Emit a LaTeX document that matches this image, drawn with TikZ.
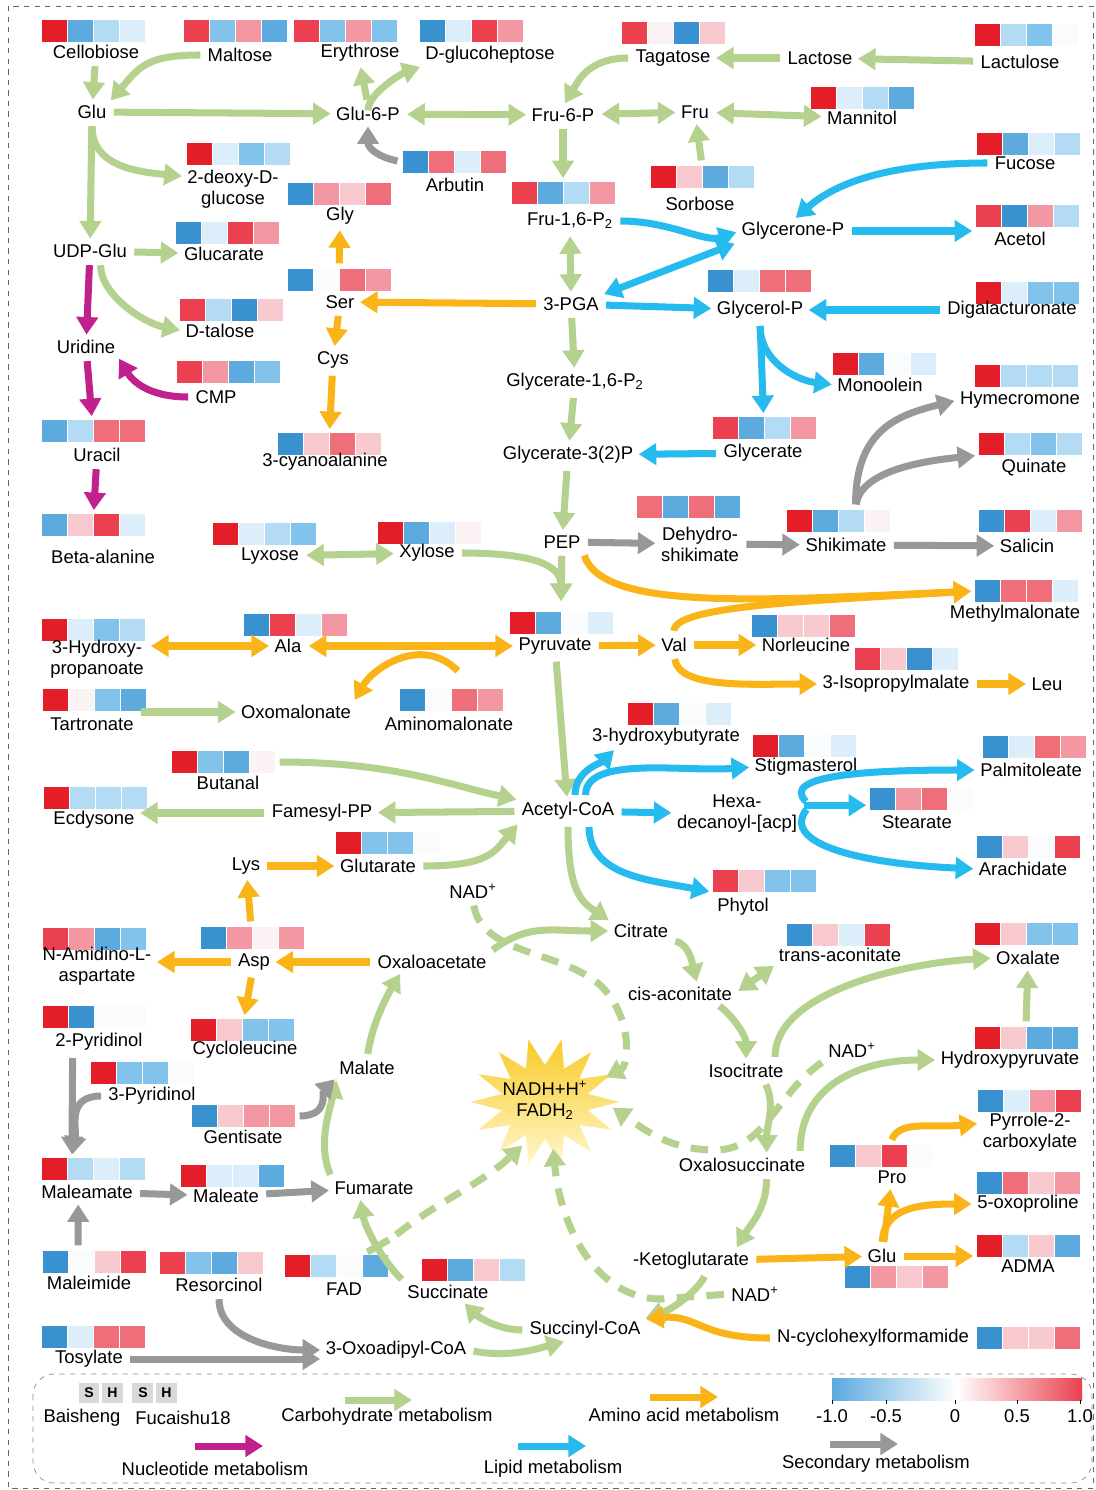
\documentclass[tikz,border=0pt]{standalone}
\usepackage{fontspec}
\setmainfont{Liberation Sans}
\usetikzlibrary{positioning,arrows.meta,shapes.geometric}

\definecolor{carbc}{RGB}{180,209,142}
\definecolor{aminoc}{RGB}{251,180,24}
\definecolor{nuclc}{RGB}{192,33,140}
\definecolor{lipc}{RGB}{38,187,238}
\definecolor{secc}{RGB}{152,152,152}
\definecolor{starc}{RGB}{248,203,40}
\definecolor{starl}{RGB}{255,247,205}
\definecolor{hr4}{RGB}{228,30,40}
\definecolor{hr3}{RGB}{234,64,80}
\definecolor{hr2}{RGB}{238,110,122}
\definecolor{hr1}{RGB}{243,152,162}
\definecolor{hr0}{RGB}{248,202,208}
\definecolor{hw}{RGB}{251,242,244}
\definecolor{hx}{RGB}{250,251,253}
\definecolor{hb0}{RGB}{220,238,250}
\definecolor{hb1}{RGB}{180,219,244}
\definecolor{hb2}{RGB}{130,195,236}
\definecolor{hb3}{RGB}{92,170,222}
\definecolor{hb4}{RGB}{58,145,208}

\newcommand{\mfont}{\fontsize{10.5}{12}\selectfont}
\newcommand{\heat}[4]{%
  \foreach \col [count=\i from 0] in {#4} {\fill[\col] (#2+\i*26,#3) rectangle +(24.5,22);}
  \node (#1-h) [hmap] at (#2+51,#3+11) {};
}

\begin{document}
\begin{tikzpicture}[x=0.02cm, y=-0.02cm, >={Triangle[length=10pt,width=12pt]},
  lbl/.style={inner sep=1pt, align=center, font=\mfont},
  hmap/.style={inner sep=0pt, minimum width=2.04cm, minimum height=0.44cm},
  key/.style={fill=black!15, inner sep=0pt, minimum width=0.42cm, minimum height=0.4cm, font=\fontsize{8}{9}\selectfont\bfseries},
  carb/.style={->, draw=carbc, line width=4pt, shorten <=3pt, shorten >=2pt},
  carbdash/.style={carb, dash pattern=on 10pt off 7pt},
  amino/.style={carb, draw=aminoc},
  nucl/.style={carb, draw=nuclc},
  lipid/.style={carb, draw=lipc},
  sec/.style={carb, draw=secc}]
\useasboundingbox (0,0) rectangle (1095,1490);
\draw[black!60, dashed] (8,6) rectangle (1093,1488);

% heat maps
\heat{cellobiose}{42}{20}{hr4,hb3,hb1,hb0}
\heat{maltose}{184}{20}{hr3,hb2,hr1,hb3}
\heat{erythrose}{294}{20}{hr3,hb2,hr1,hb2}
\heat{dgh}{420}{20}{hb4,hb0,hr3,hr1}
\heat{tagatose}{622}{22}{hr3,hw,hb4,hr0}
\heat{lactulose}{975}{24}{hr4,hb1,hb2,hx}
\heat{mannitol}{811}{87}{hr4,hb0,hb1,hb3}
\heat{deoxy}{187}{143}{hr4,hb0,hb2,hb1}
\heat{arbutin}{403}{151}{hb4,hr2,hb0,hr2}
\heat{gly}{288}{183}{hb4,hr1,hr0,hr2}
\heat{fru16}{512}{182}{hr3,hb3,hb1,hr1}
\heat{sorbose}{651}{166}{hr4,hr0,hb3,hb1}
\heat{fucose}{977}{133}{hr4,hb3,hb0,hb1}
\heat{acetol}{976}{205}{hr3,hb4,hr1,hb1}
\heat{glucarate}{176}{222}{hb4,hb0,hr3,hr1}
\heat{ser}{288}{269}{hb4,hx,hr2,hr1}
\heat{glycerolp}{708}{270}{hb4,hb0,hr2,hr2}
\heat{digal}{976}{282}{hr4,hb0,hb2,hb2}
\heat{dtalose}{180}{299}{hr3,hb1,hb4,hr0}
\heat{cmp}{177}{361}{hr3,hr1,hb3,hb2}
\heat{monoolein}{833}{353}{hr4,hb3,hx,hb0}
\heat{hymecromone}{975}{365}{hr4,hb1,hb1,hb1}
\heat{uracil}{42}{420}{hb3,hb1,hr2,hr2}
\heat{cyano}{278}{433}{hb4,hr0,hr2,hr0}
\heat{glycerate}{713}{417}{hr3,hb3,hb1,hr1}
\heat{quinate}{979}{433}{hr4,hb1,hb2,hb1}
\heat{betaala}{42}{514}{hb3,hr0,hr3,hb0}
\heat{dehydro}{637}{496}{hr2,hb3,hr2,hb3}
\heat{shikimate}{787}{510}{hr4,hb3,hb1,hw}
\heat{salicin}{979}{510}{hb4,hr3,hb0,hr1}
\heat{lyxose}{213}{523}{hr4,hb0,hb1,hb2}
\heat{xylose}{378}{522}{hr4,hb3,hb0,hw}
\heat{methylmal}{975}{580}{hb4,hr2,hr2,hb0}
\heat{hydroxyprop}{42}{619}{hr4,hb0,hb2,hb1}
\heat{ala}{244}{614}{hb4,hr3,hb0,hr1}
\heat{pyruvate}{510}{612}{hr4,hb3,hx,hb0}
\heat{norleucine}{752}{615}{hb4,hr0,hr0,hr2}
\heat{isoprop}{855}{648}{hr3,hr0,hb4,hb0}
\heat{tartronate}{43}{689}{hr4,hw,hb2,hb3}
\heat{aminomal}{400}{689}{hb4,hx,hr2,hr1}
\heat{hydroxybut}{628}{703}{hr4,hb3,hx,hb0}
\heat{butanal}{172}{751}{hr4,hb2,hb3,hw}
\heat{stigmasterol}{753}{735}{hr4,hb3,hx,hb0}
\heat{palmitoleate}{983}{736}{hb4,hb0,hr2,hr1}
\heat{ecdysone}{44}{787}{hr4,hb1,hb1,hb1}
\heat{stearate}{870}{788}{hb4,hr1,hr2,hx}
\heat{glutarate}{336}{832}{hr4,hb2,hb2,hx}
\heat{arachidate}{977}{836}{hb4,hr0,hx,hr3}
\heat{phytol}{713}{870}{hr3,hr0,hb2,hb2}
\heat{transacon}{787}{924}{hb4,hr0,hb0,hr3}
\heat{oxalate}{975}{923}{hr4,hr0,hb2,hb2}
\heat{namidino}{43}{928}{hr3,hr1,hb3,hb2}
\heat{asp}{201}{927}{hb4,hr1,hw,hr1}
\heat{pyridinol2}{43}{1006}{hr4,hb4,hx,hx}
\heat{cyclo}{191}{1019}{hr4,hr0,hb2,hb2}
\heat{hydroxypyr}{975}{1027}{hr4,hr0,hb3,hb3}
\heat{pyridinol3}{91}{1062}{hr4,hb2,hb2,hx}
\heat{pyrrole}{978}{1090}{hb4,hb0,hr1,hr3}
\heat{gentisate}{192}{1105}{hb4,hr0,hr1,hr1}
\heat{pro}{830}{1145}{hb4,hr0,hr3,hx}
\heat{maleamate}{42}{1158}{hr4,hb1,hb0,hb1}
\heat{maleate}{181}{1165}{hr4,hb0,hb0,hb3}
\heat{oxoproline}{977}{1172}{hb4,hr2,hr0,hr1}
\heat{maleimide}{43}{1251}{hb4,hx,hr0,hr3}
\heat{resorcinol}{160}{1252}{hr3,hb2,hb3,hr0}
\heat{fad}{285}{1255}{hr4,hb1,hx,hb3}
\heat{succinate}{422}{1259}{hr4,hb3,hr0,hb1}
\heat{glu2}{845}{1266}{hb4,hr1,hr0,hr1}
\heat{adma}{977}{1235}{hr4,hb1,hr0,hb3}
\heat{ncyclo}{977}{1327}{hb4,hr0,hr0,hr2}
\heat{tosylate}{42}{1326}{hb4,hb0,hr2,hr2}

% star
\shade[top color=starc, bottom color=starl] plot[samples=29, domain=0:28, variable=\k]
  ({545+cos(\k*360/28)*ifthenelse(mod(\k,2)<0.5,74,44)}, {1102+sin(\k*360/28)*ifthenelse(mod(\k,2)<0.5,64,37)}) -- cycle;
\node (star) [lbl, ellipse, minimum width=2.6cm, minimum height=1.8cm] at (545,1100) {NADH+H\textsuperscript{+}\\FADH\textsubscript{2}};

% metabolites
\node (cellobiose) [lbl] at (96,52) {Cellobiose};
\node (maltose) [lbl] at (240,55) {Maltose};
\node (erythrose) [lbl] at (360,53) {Erythrose};
\node (dgh) [lbl] at (490,55) {D-glucoheptose};
\node (tagatose) [lbl] at (673,58) {Tagatose};
\node (lactose) [lbl] at (820,58) {Lactose};
\node (lactulose) [lbl] at (1020,62) {Lactulose};
\node (glu) [lbl] at (92,112) {Glu};
\node (glu6p) [lbl] at (368,114) {Glu-6-P};
\node (fru6p) [lbl] at (563,115) {Fru-6-P};
\node (fru) [lbl] at (695,112) {Fru};
\node (mannitol) [lbl] at (862,118) {Mannitol};
\node (deoxy) [lbl] at (233,189) {2-deoxy-D-\\glucose};
\node (arbutin) [lbl] at (455,185) {Arbutin};
\node (gly) [lbl] at (340,216) {Gly};
\node (fru16) [lbl] at (570,221) {Fru-1,6-P\textsubscript{2}};
\node (sorbose) [lbl] at (700,204) {Sorbose};
\node (fucose) [lbl] at (1025,163) {Fucose};
\node (glycerone) [lbl] at (793,231) {Glycerone-P};
\node (acetol) [lbl] at (1020,239) {Acetol};
\node (udpglu) [lbl] at (90,251) {UDP-Glu};
\node (glucarate) [lbl] at (224,254) {Glucarate};
\node (ser) [lbl] at (340,302) {Ser};
\node (pga) [lbl] at (571,304) {3-PGA};
\node (glycerolp) [lbl] at (760,310) {Glycerol-P};
\node (digal) [lbl] at (1012,310) {Digalacturonate};
\node (dtalose) [lbl] at (220,331) {D-talose};
\node (uridine) [lbl] at (86,347) {Uridine};
\node (cmp) [lbl] at (216,397) {CMP};
\node (cys) [lbl] at (333,360) {Cys};
\node (g16p) [lbl] at (575,382) {Glycerate-1,6-P\textsubscript{2}};
\node (monoolein) [lbl] at (880,385) {Monoolein};
\node (hymecromone) [lbl] at (1020,400) {Hymecromone};
\node (uracil) [lbl] at (97,455) {Uracil};
\node (cyano) [lbl] at (325,462) {3-cyanoalanine};
\node (glycerate) [lbl] at (763,453) {Glycerate};
\node (g32p) [lbl] at (568,455) {Glycerate-3(2)P};
\node (quinate) [lbl] at (1034,468) {Quinate};
\node (betaala) [lbl] at (103,557) {Beta-alanine};
\node (dehydro) [lbl] at (700,544) {Dehydro-\\shikimate};
\node (shikimate) [lbl] at (846,545) {Shikimate};
\node (salicin) [lbl] at (1027,546) {Salicin};
\node (pep) [lbl] at (562,542) {PEP};
\node (lyxose) [lbl] at (270,556) {Lyxose};
\node (xylose) [lbl] at (427,553) {Xylose};
\node (methylmal) [lbl] at (1015,614) {Methylmalonate};
\node (hydroxyprop) [lbl] at (97,659) {3-Hydroxy-\\propanoate};
\node (ala) [lbl] at (288,646) {Ala};
\node (pyruvate) [lbl] at (555,646) {Pyruvate};
\node (val) [lbl] at (674,645) {Val};
\node (norleucine) [lbl] at (806,645) {Norleucine};
\node (isoprop) [lbl] at (896,684) {3-Isopropylmalate};
\node (leu) [lbl] at (1047,684) {Leu};
\node (tartronate) [lbl] at (92,724) {Tartronate};
\node (oxomal) [lbl] at (296,712) {Oxomalonate};
\node (aminomal) [lbl] at (449,724) {Aminomalonate};
\node (hydroxybut) [lbl] at (666,737) {3-hydroxybutyrate};
\node (butanal) [lbl] at (228,783) {Butanal};
\node (stigmasterol) [lbl] at (806,767) {Stigmasterol};
\node (palmitoleate) [lbl] at (1031,770) {Palmitoleate};
\node (ecdysone) [lbl] at (94,820) {Ecdysone};
\node (famesyl) [lbl] at (322,813) {Famesyl-PP};
\node (acetylcoa) [lbl] at (568,811) {Acetyl-CoA};
\node (hexa) [lbl] at (737,814) {Hexa-\\decanoyl-[acp]};
\node (stearate) [lbl] at (917,822) {Stearate};
\node (lys) [lbl] at (246,866) {Lys};
\node (glutarate) [lbl] at (378,866) {Glutarate};
\node (arachidate) [lbl] at (1023,869) {Arachidate};
\node (phytol) [lbl] at (743,907) {Phytol};
\node (nad1) [lbl] at (473,891) {NAD\textsuperscript{+}};
\node (citrate) [lbl] at (641,931) {Citrate};
\node (transacon) [lbl] at (840,955) {trans-aconitate};
\node (oxalate) [lbl] at (1028,958) {Oxalate};
\node (namidino) [lbl] at (97,966) {N-Amidino-L-\\aspartate};
\node (asp) [lbl] at (254,962) {Asp};
\node (oxaloacetate) [lbl] at (432,962) {Oxaloacetate};
\node (cisacon) [lbl] at (680,994) {cis-aconitate};
\node (pyridinol2) [lbl] at (99,1042) {2-Pyridinol};
\node (cyclo) [lbl] at (245,1050) {Cycloleucine};
\node (nad2) [lbl] at (852,1050) {NAD\textsuperscript{+}};
\node (hydroxypyr) [lbl] at (1010,1060) {Hydroxypyruvate};
\node (malate) [lbl] at (367,1068) {Malate};
\node (isocitrate) [lbl] at (746,1071) {Isocitrate};
\node (pyridinol3) [lbl] at (152,1096) {3-Pyridinol};
\node (pyrrole) [lbl] at (1030,1132) {Pyrrole-2-\\carboxylate};
\node (gentisate) [lbl] at (243,1137) {Gentisate};
\node (oxalosucc) [lbl] at (742,1165) {Oxalosuccinate};
\node (pro) [lbl] at (892,1177) {Pro};
\node (maleamate) [lbl] at (87,1192) {Maleamate};
\node (maleate) [lbl] at (226,1196) {Maleate};
\node (fumarate) [lbl] at (374,1188) {Fumarate};
\node (oxoproline) [lbl] at (1028,1204) {5-oxoproline};
\node (maleimide) [lbl] at (89,1283) {Maleimide};
\node (resorcinol) [lbl] at (219,1285) {Resorcinol};
\node (fad) [lbl] at (344,1289) {FAD};
\node (succinate) [lbl] at (448,1292) {Succinate};
\node (ketoglut) [lbl] at (691,1261) {-Ketoglutarate};
\node (glu2) [lbl] at (882,1256) {Glu};
\node (adma) [lbl] at (1028,1266) {ADMA};
\node (nad3) [lbl] at (755,1294) {NAD\textsuperscript{+}};
\node (succinylcoa) [lbl] at (585,1330) {Succinyl-CoA};
\node (ncyclo) [lbl] at (873,1338) {N-cyclohexylformamide};
\node (tosylate) [lbl] at (89,1359) {Tosylate};
\node (oxoadipyl) [lbl] at (396,1350) {3-Oxoadipyl-CoA};
\coordinate (fadj) at (392,1238);

% carbohydrate
\draw[carb] (cellobiose) -- (glu);
\draw[carb] (maltose.west) .. controls +(-60,0) and +(30,-35) .. (glu.north east);
\draw[carb] (glu) -- (glu6p);
\draw[carb] (glu6p.north) -- (erythrose.south);
\draw[carb] ([yshift=-6pt]glu6p.north) .. controls +(0,-22) and +(-22,8) .. (dgh.south west);
\draw[carb, <->] (glu6p) -- (fru6p);
\draw[carb] (tagatose.west) .. controls +(-45,0) and +(15,-25) .. (fru6p.north);
\draw[carb] (lactose) -- (tagatose);
\draw[carb] (lactulose) -- (lactose);
\draw[carb, <->] (fru6p) -- (fru);
\draw[carb, <->] (fru) -- (mannitol);
\draw[carb] (sorbose-h.north) -- (fru);
\draw[carb] (fru6p) -- (fru16-h.north);
\draw[carb] (glu) -- (udpglu);
\draw[carb] (glu.south) .. controls +(0,45) and +(-50,-5) .. ([yshift=-5pt]deoxy.north west);
\draw[carb] (udpglu) -- (glucarate);
\draw[carb] ([xshift=6pt]udpglu.south) .. controls +(0,35) and +(-40,-8) .. (dtalose.west);
\draw[carb, <->] (fru16) -- (pga);
\draw[carb] (pga) -- (g16p);
\draw[carb] (g16p) -- (g32p);
\draw[carb] (g32p) -- (pep);
\draw[carb] (pep) -- ([yshift=4pt]pyruvate-h.north);
\draw[carb] (xylose.east) .. controls +(75,0) and +(0,-40) .. ([yshift=4pt]pyruvate-h.north);
\draw[carb, <->] (lyxose) -- (xylose);
\draw[carb] (tartronate.east |- oxomal) -- (oxomal);
\draw[carb] (pyruvate) -- (acetylcoa);
\draw[carb] (butanal-h.east) .. controls +(120,0) and +(-70,-15) .. (acetylcoa.north west);
\draw[carb] (acetylcoa) -- (famesyl);
\draw[carb] (famesyl) -- (famesyl -| ecdysone.east);
\draw[carb] (glutarate.east) .. controls +(70,0) and +(-25,30) .. (acetylcoa.south west);
\draw[carb] (acetylcoa.south) .. controls +(0,70) and +(-30,-20) .. (citrate.north west);
\draw[carb] (oxaloacetate.north east) .. controls +(40,-30) and +(-60,0) .. (citrate.west);
\draw[carb] (citrate.south east) .. controls +(20,5) and +(-5,-20) .. ([xshift=10pt]cisacon.north);
\draw[carb, <->] (cisacon.east) -- (transacon.south west);
\draw[carb] ([xshift=20pt]cisacon.south) .. controls +(20,15) and +(0,-25) .. (isocitrate.north);
\draw[carb] ([xshift=-6pt]isocitrate.north east) .. controls +(0,-70) and +(-90,5) .. (oxalate.west);
\draw[carb] ([xshift=10pt]isocitrate.south) .. controls +(12,25) and +(0,-30) .. ([xshift=14pt]oxalosucc.north);
\draw[carb] ([xshift=-4pt]oxalosucc.north east) .. controls +(0,-70) and +(-80,0) .. (hydroxypyr.west);
\draw[carb] (hydroxypyr-h.north) -- (oxalate);
\draw[carb] ([xshift=14pt]oxalosucc.south) .. controls +(0,35) and +(15,-25) .. ([xshift=25pt]ketoglut.north);
\draw[carb] ([xshift=9pt]ketoglut.south) .. controls +(-10,20) and +(30,-10) .. (succinylcoa.north east);
\draw[carb] (succinylcoa.west) .. controls +(-30,0) and +(15,15) .. ([xshift=8pt]succinate.south);
\draw[carb] (succinate.north west) .. controls +(-25,-25) and +(5,30) .. ([xshift=-8pt]fumarate.south);
\draw[carb, -] ([xshift=-14pt]fad-h.north east) -- (fadj);
\draw[carb] (fumarate.north west) .. controls +(-15,-35) and +(-8,35) .. (malate.south west);
\draw[carb] (malate.north) .. controls +(5,-35) and +(-15,25) .. ([xshift=15pt]oxaloacetate.south west);
\draw[carb] (oxoadipyl.east) .. controls +(40,8) and +(-30,8) .. ([xshift=-10pt]succinylcoa.south);
\draw[carbdash] (nad1.south) .. controls (482,955) and (560,950) .. (600,985) .. controls (632,1015) and (630,1065) .. (star.20);
\draw[carbdash] (nad2.south west) .. controls (775,1095) and (765,1150) .. (715,1150) .. controls (670,1150) and (645,1130) .. (star.-5);
\draw[carbdash] (nad3.west) -- (660,1299) .. controls (595,1298) and (560,1225) .. (star.-80);
\draw[carbdash] (fadj) .. controls (440,1200) and (480,1185) .. (star.-115);

% secondary
\draw[sec] (arbutin-h.west) .. controls +(-25,-5) and +(0,25) .. (glu6p.south);
\draw[sec] (pep) -- (dehydro);
\draw[sec] (dehydro) -- (shikimate);
\draw[sec] (shikimate) -- (salicin);
\draw[sec] ([xshift=10pt]shikimate-h.north) .. controls +(0,-80) and +(-60,15) .. (hymecromone.west);
\draw[sec] ([xshift=10pt]shikimate-h.north) .. controls +(5,-40) and +(-50,5) .. (quinate-h.south west);
\draw[sec] ([xshift=-15pt]pyridinol2.south) -- ([xshift=-12pt]maleamate-h.north);
\draw[sec] (pyridinol3.west) .. controls +(-40,0) and +(5,-30) .. ([xshift=-12pt]maleamate-h.north);
\draw[sec] (gentisate-h.east) .. controls +(35,0) and +(-15,15) .. (malate.south west);
\draw[sec] (maleamate) -- (maleate);
\draw[sec] (maleate) -- (fumarate);
\draw[sec] ([xshift=-9pt]maleimide-h.north) -- ([xshift=-5pt]maleamate.south);
\draw[sec] (resorcinol.south) .. controls +(0,45) and +(-45,0) .. (oxoadipyl.west);
\draw[sec] (tosylate.east) -- (tosylate.east -| oxoadipyl.west);

% amino acid
\draw[amino] (pga) -- (ser);
\draw[amino] (ser-h) -- (gly);
\draw[amino] (ser) -- (cys);
\draw[amino] (cys) -- (cyano-h);
\draw[amino] (pep.south east) .. controls +(20,60) and +(-220,10) .. (methylmal-h.west);
\draw[amino] (val.north) .. controls +(0,-30) and +(-170,10) .. (methylmal-h.west);
\draw[amino] (pyruvate) -- (val);
\draw[amino] (val) -- (norleucine);
\draw[amino] (val.south) .. controls +(5,35) and +(-70,0) .. (isoprop.west);
\draw[amino] (isoprop) -- (leu);
\draw[amino, <->] (hydroxyprop.east |- ala) -- (ala);
\draw[amino, <->] (ala) -- (pyruvate);
\draw[amino] ([shift={(6pt,8pt)}]aminomal-h.north) .. controls +(-40,-40) and +(20,-35) .. (oxomal.north east);
\draw[amino] (lys) -- (glutarate);
\draw[amino] (asp-h) -- (lys);
\draw[amino] (oxaloacetate) -- (asp);
\draw[amino] (asp) -- (asp -| namidino.east);
\draw[amino] (asp) -- (cyclo-h);
\draw[amino] (ketoglut) -- (glu2);
\draw[amino] (glu2.east) -- (glu2.east -| adma-h.west);
\draw[amino] (glu2) -- (pro);
\draw[amino] (glu2.north) .. controls +(2,-40) and +(-55,0) .. (oxoproline.west);
\draw[amino] ([xshift=5pt]pro-h.north) .. controls +(10,-25) and +(-50,5) .. ([yshift=5pt]pyrrole.west);
\draw[amino] (ncyclo.west) .. controls +(-75,0) and +(55,-5) .. (succinylcoa.north east);

% nucleotide
\draw[nucl] (udpglu) -- (uridine);
\draw[nucl] (uridine) -- (uracil-h);
\draw[nucl] (cmp.west) .. controls +(-45,0) and +(15,25) .. ([yshift=-5pt]uridine.east);
\draw[nucl] (uracil) -- (betaala-h);

% lipid
\draw[lipid] (fru16.east) .. controls +(55,0) and +(-35,12) .. (glycerone.west);
\draw[lipid] (fucose.west) .. controls +(-110,0) and +(40,-35) .. (glycerone.north);
\draw[lipid] (glycerone.east) -- (glycerone.east -| acetol-h.west);
\draw[lipid, <->] (glycerone.south west) -- (pga.north east);
\draw[lipid] (pga) -- (glycerolp);
\draw[lipid] (digal) -- (glycerolp);
\draw[lipid] (glycerolp.south) -- (glycerate-h);
\draw[lipid] (glycerolp.south) .. controls +(0,40) and +(-40,-5) .. (monoolein.west);
\draw[lipid] (glycerate) -- (g32p);
\draw[lipid] ([xshift=4pt]acetylcoa.north) .. controls +(0,-30) and +(-15,15) .. ([xshift=15pt]hydroxybut.south west);
\draw[lipid] ([xshift=10pt]acetylcoa.north) .. controls +(0,-45) and +(-70,5) .. (stigmasterol.west);
\draw[lipid] (acetylcoa) -- (hexa);
\draw[lipid] ([xshift=12pt]acetylcoa.south) .. controls +(0,55) and +(-60,-12) .. (phytol-h.south west);
\draw[lipid] ([yshift=5pt]hexa.east) -- ([yshift=5pt]hexa.east -| stearate-h.west);
\draw[lipid] ([shift={(6pt,5pt)}]hexa.east) .. controls +(-30,-30) and +(-110,0) .. (palmitoleate.west);
\draw[lipid] ([shift={(6pt,5pt)}]hexa.east) .. controls +(-30,40) and +(-110,-5) .. (arachidate.west);

% legend
\draw[black!45, dashed, rounded corners=12pt] (33,1374) rectangle (1092,1483);
\node (k1) [key] at (89,1393) {S};
\node (k2) [key, right=1pt of k1] {H};
\node (k3) [key, right=5pt of k2] {S};
\node (k4) [key, right=1pt of k3] {H};
\node (bais) [lbl] at (82,1418) {Baisheng};
\node (fucai) [lbl] at (183,1418) {Fucaishu18};
\coordinate (lg1) at (345,1400); \coordinate (lg2) at (412,1400);
\coordinate (la1) at (650,1397); \coordinate (la2) at (718,1397);
\coordinate (ln1) at (195,1446); \coordinate (ln2) at (263,1446);
\coordinate (ll1) at (518,1446); \coordinate (ll2) at (586,1446);
\coordinate (ls1) at (830,1444); \coordinate (ls2) at (898,1444);
\draw[carb, shorten <=0pt, shorten >=0pt] (lg1) -- (lg2);
\draw[amino, shorten <=0pt, shorten >=0pt] (la1) -- (la2);
\draw[nucl, shorten <=0pt, shorten >=0pt] (ln1) -- (ln2);
\draw[lipid, shorten <=0pt, shorten >=0pt] (ll1) -- (ll2);
\draw[sec, shorten <=0pt, shorten >=0pt] (ls1) -- (ls2);
\node (lgc) [lbl] at (387,1417) {Carbohydrate metabolism};
\node (lga) [lbl] at (684,1415) {Amino acid metabolism};
\node (lgn) [lbl] at (215,1469) {Nucleotide metabolism};
\node (lgl) [lbl] at (553,1469) {Lipid metabolism};
\node (lgs) [lbl] at (876,1464) {Secondary metabolism};
\shade[left color=hb3, right color=hr3, middle color=white] (832,1378) rectangle (1082,1400);
\foreach \tx/\tl in {832/-1.0, 886/-0.5, 955/0, 1017/0.5, 1080/1.0} {
  \draw (\tx,1400) -- (\tx,1404);
  \node (tick\tx) [lbl] at (\tx,1416) {\tl};
}
\end{tikzpicture}
\end{document}
